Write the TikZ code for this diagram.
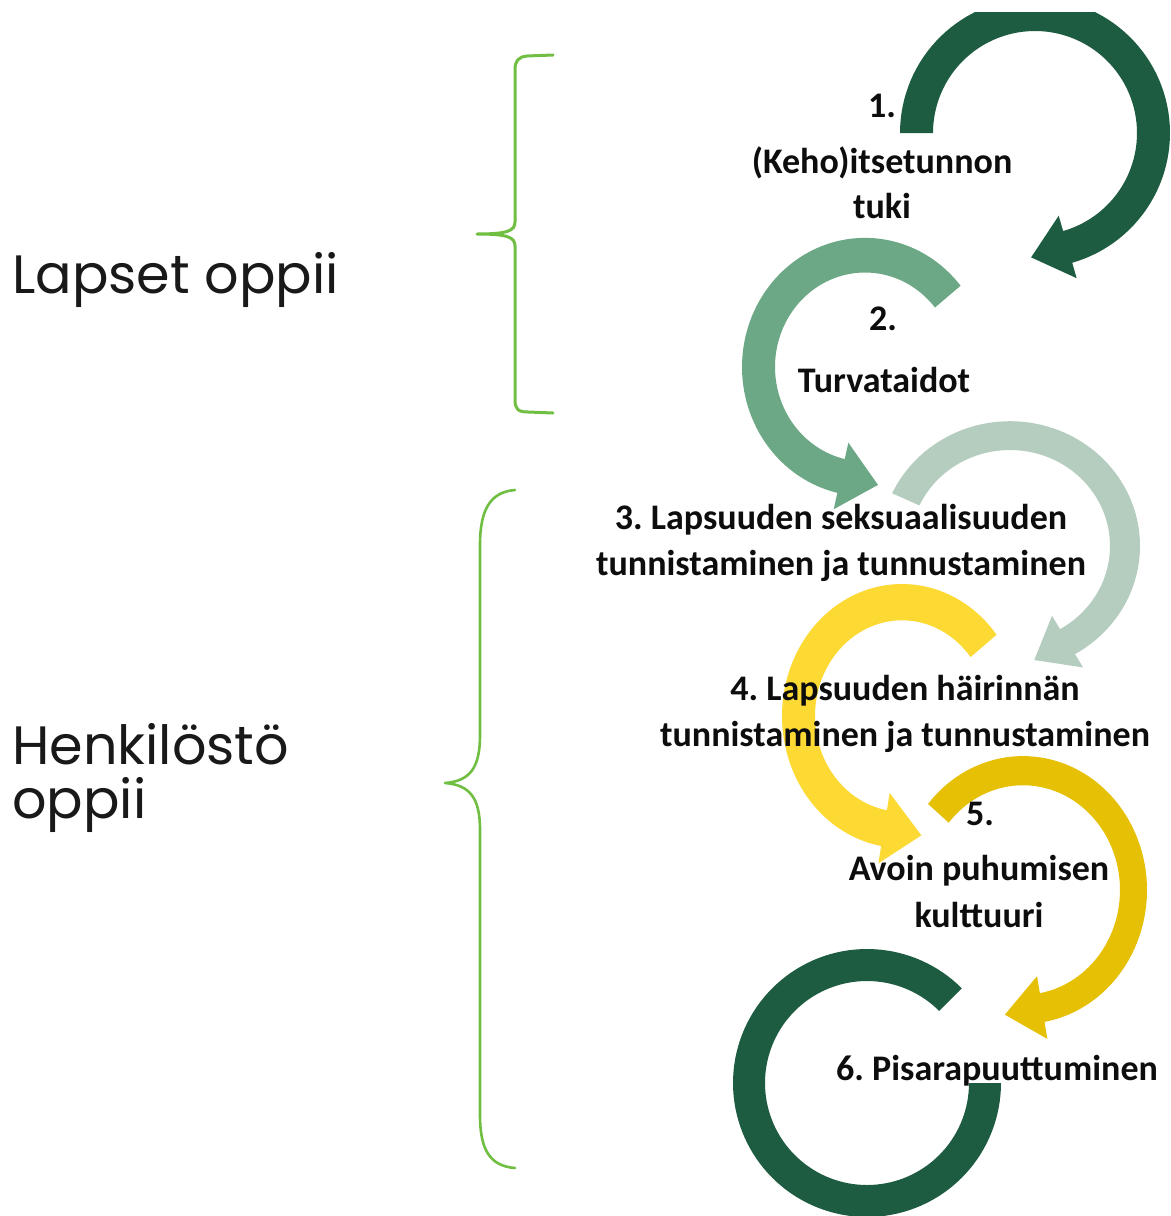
\documentclass[tikz,border=0pt]{standalone}
\usepackage{fontspec}
\setmainfont{Carlito}
\newfontfamily\poppfont{Poppins}
\frenchspacing
\definecolor{dkgreen}{RGB}{30,92,66}
\definecolor{mdgreen}{RGB}{108,168,133}
\definecolor{ltgreen}{RGB}{180,205,190}
\definecolor{yel}{RGB}{253,217,52}
\definecolor{dkyel}{RGB}{229,192,4}
\definecolor{bracegreen}{RGB}{112,190,66}
\newcommand{\CAL}{38}
\newcommand{\CAw}{16}
% #1 cx, #2 cy, #3 outer r, #4 inner r, #5 y/x ratio, #6 start angle, #7 end angle, #8 colour
\newcommand{\circarr}[8]{%
  \pgfmathsetmacro{\CAm}{(#3+#4)/2}%
  \pgfmathsetmacro{\CAs}{#7>#6 ? 1 : -1}%
  \pgfmathsetmacro{\CAn}{sqrt(sin(#7)^2+(#5*cos(#7))^2)}%
  \pgfmathsetmacro{\CAtx}{#1+\CAm*cos(#7)+\CAs*\CAL*(-sin(#7))/\CAn}%
  \pgfmathsetmacro{\CAty}{#2+#5*\CAm*sin(#7)+\CAs*\CAL*(#5*cos(#7))/\CAn}%
  \fill[#8] plot[domain=#6:#7,samples=90,variable=\t] ({#1+#3*cos(\t)},{#2+#5*#3*sin(\t)})
     -- ({#1+(#3+\CAw)*cos(#7)},{#2+#5*(#3+\CAw)*sin(#7)})
     -- (\CAtx,\CAty)
     -- ({#1+(#4-\CAw)*cos(#7)},{#2+#5*(#4-\CAw)*sin(#7)})
     -- plot[domain=#7:#6,samples=90,variable=\t] ({#1+#4*cos(\t)},{#2+#5*#4*sin(\t)}) -- cycle;
}
\tikzset{
  rtext/.style={font=\fontsize{18}{22}\selectfont\bfseries, anchor=base, inner sep=0pt, text=black!95},
  ltext/.style={font=\poppfont\fontsize{27}{32}\selectfont, anchor=base west, inner sep=0pt, text=black!90},
  bracestyle/.style={draw=bracegreen, line width=1.5pt, line cap=round, line join=round}
}
\begin{document}
\begin{tikzpicture}[x=0.5pt,y=-0.5pt]
\fill[white] (0,0) rectangle (1171,1216);
\useasboundingbox (0,0) rectangle (1171,1216);
\begin{scope}
\clip (0,12) rectangle (1171,1216);
\circarr{1035}{133}{135}{102}{1}{180}{434}{dkgreen}
\circarr{865}{367}{123}{90}{1.05}{321}{103}{mdgreen}
\circarr{1010}{546}{130}{100}{0.96}{205}{420}{ltgreen}
\circarr{902}{716}{120}{87}{1.1}{322}{100}{yel}
\circarr{1023}{890}{124}{97}{1.08}{220}{440}{dkyel}
\fill[dkgreen] plot[domain=315:0,samples=120,variable=\t] ({867+134*cos(\t)},{1083+134*sin(\t)})
   -- plot[domain=0:315,samples=120,variable=\t] ({867+102*cos(\t)},{1083+102*sin(\t)}) -- cycle;
\end{scope}
% braces
\draw[bracestyle] (553,55) -- (527,56) .. controls (518,57) and (515,61) .. (515,70)
  -- (515,222) .. controls (515,231) and (507,234) .. (477,234)
  .. controls (507,234) and (515,237) .. (515,246)
  -- (515,400) .. controls (515,409) and (518,412) .. (528,412) -- (553,413);
\draw[bracestyle, line width=1.3pt] (515,490) .. controls (490,492) and (480,510) .. (480,545)
  -- (480,735) .. controls (480,768) and (470,781) .. (445,783)
  .. controls (470,785) and (480,798) .. (480,830)
  -- (480,1115) .. controls (480,1150) and (490,1166) .. (515,1168);
% left texts
\node[ltext] (lapset) at (12,293) {Lapset oppii};
\node[ltext] (henk1) at (12,764) {Henkilöstö};
\node[ltext] (henk2) at (12,818) {oppii};
% right texts
\node[rtext] (t1a) at (882,117) {1.};
\node[rtext] (t1b) at (882,173) {(Keho)itsetunnon};
\node[rtext] (t1c) at (882,218) {tuki};
\node[rtext] (t2a) at (883,330) {2.};
\node[rtext] (t2b) at (884,392) {Turvataidot};
\node[rtext] (t3a) at (841,529) {3. Lapsuuden seksuaalisuuden};
\node[rtext] (t3b) at (841,575) {tunnistaminen ja tunnustaminen};
\node[rtext] (t4a) at (905,700) {4. Lapsuuden häirinnän};
\node[rtext] (t4b) at (905,746) {tunnistaminen ja tunnustaminen};
\node[rtext] (t5a) at (980,825) {5.};
\node[rtext] (t5b) at (979,880) {Avoin puhumisen};
\node[rtext] (t5c) at (979,927) {kulttuuri};
\node[rtext] (t6) at (997,1080) {6. Pisarapuuttuminen};
\end{tikzpicture}
\end{document}
